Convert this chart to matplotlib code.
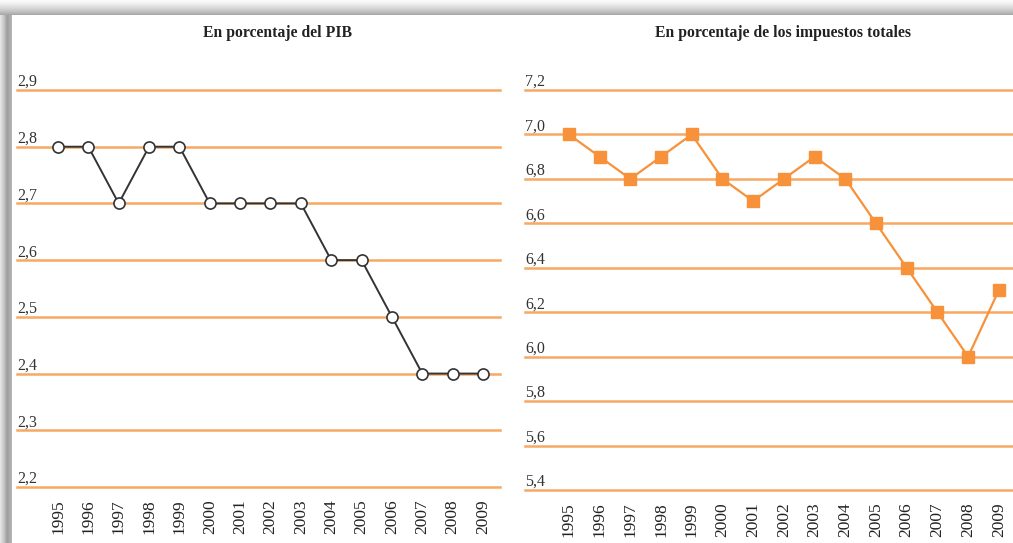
import numpy as np
import matplotlib
matplotlib.use('Agg')
from matplotlib import pyplot as plt
from matplotlib import transforms

plt.rcParams['font.family'] = ['Liberation Serif', 'DejaVu Serif']

years = [1995, 1996, 1997, 1998, 1999, 2000, 2001, 2002,
         2003, 2004, 2005, 2006, 2007, 2008, 2009]
pib = [2.8, 2.8, 2.7, 2.8, 2.8, 2.7, 2.7, 2.7,
       2.7, 2.6, 2.6, 2.5, 2.4, 2.4, 2.4]
impuestos = [7.0, 6.9, 6.8, 6.9, 7.0, 6.8, 6.7, 6.8,
             6.9, 6.8, 6.6, 6.4, 6.2, 6.0, 6.3]
pib_ticks = [2.2, 2.3, 2.4, 2.5, 2.6, 2.7, 2.8, 2.9]
imp_ticks = [5.4, 5.6, 5.8, 6.0, 6.2, 6.4, 6.6, 6.8, 7.0, 7.2]

title_left = 'En porcentaje del PIB'
title_right = 'En porcentaje de los impuestos totales'

W, H = 1013, 543
grid_color = '#F7A862'
orange = '#F7913A'

fig = plt.figure(figsize=(W / 100, H / 100), dpi=100)
fig.patch.set_facecolor('white')

# marco con sombra gris (arriba y a la izquierda)
bg = fig.add_axes([0, 0, 1, 1], zorder=-10)
top = np.linspace(0.05, 0.9, 60)[:, None] * np.ones((1, 2))
bg.imshow(top, extent=[0, W, 15, 0], cmap='Greys', vmin=0, vmax=2.0,
          aspect='auto', interpolation='bilinear')
left = np.concatenate([np.linspace(0.35, 0.95, 30), np.linspace(0.95, 0.8, 20)])
left = left[None, :] * np.ones((2, 1))
bg.imshow(left, extent=[0, 12, H, 15], cmap='Greys', vmin=0, vmax=2.0,
          aspect='auto', interpolation='bilinear')
bg.set_xlim(0, W)
bg.set_ylim(H, 0)
bg.axis('off')


def px_axes(x0, x1, y_top, y_bot):
    return fig.add_axes([x0 / W, 1 - y_bot / H, (x1 - x0) / W, (y_bot - y_top) / H])


def style_axes(ax, ticks, fmt):
    for s in ax.spines.values():
        s.set_visible(False)
    ax.set_yticks([])
    ax.tick_params(axis='x', length=0, pad=9, labelsize=12.5, labelrotation=90,
                   labelcolor='#222222')
    ax.set_xticks(years)
    ax.set_xticklabels([str(y) for y in years])
    trans = transforms.blended_transform_factory(ax.transAxes, ax.transData)
    for t in ticks:
        ax.axhline(t, color=grid_color, lw=1.8, clip_on=False, zorder=1)
        ax.text(0.0, t, fmt(t), transform=trans, ha='left', va='bottom',
                fontsize=11.5, color='#333333')
    ax.patch.set_alpha(0)


# panel izquierdo
ax1 = px_axes(17, 500, 90, 487)
ax1.set_xlim(1993.65, 2009.56)
ax1.set_ylim(2.2, 2.9)
style_axes(ax1, pib_ticks, lambda v: ('%.1f' % v).replace('.', ','))
ax1.plot(years, pib, color='#333333', lw=1.4, marker='o', markersize=8,
         markerfacecolor='white', markeredgecolor='#333333',
         markeredgewidth=1.2, zorder=3, clip_on=False)

# panel derecho
ax2 = px_axes(525, 1013, 90, 490)
ax2.set_xlim(1993.57, 2009.46)
ax2.set_ylim(5.4, 7.2)
style_axes(ax2, imp_ticks, lambda v: ('%.1f' % v).replace('.', ','))
ax2.plot(years, impuestos, color=orange, lw=1.6, marker='s', markersize=9,
         markerfacecolor=orange, markeredgecolor=orange, zorder=3, clip_on=False)

fig.text(278 / W, 1 - 33 / H, title_left, ha='center', va='center',
         fontsize=11.3, fontweight='bold', color='#222222')
fig.text(783 / W, 1 - 33 / H, title_right, ha='center', va='center',
         fontsize=11.3, fontweight='bold', color='#222222')

fig.savefig('out.png', dpi=100)
